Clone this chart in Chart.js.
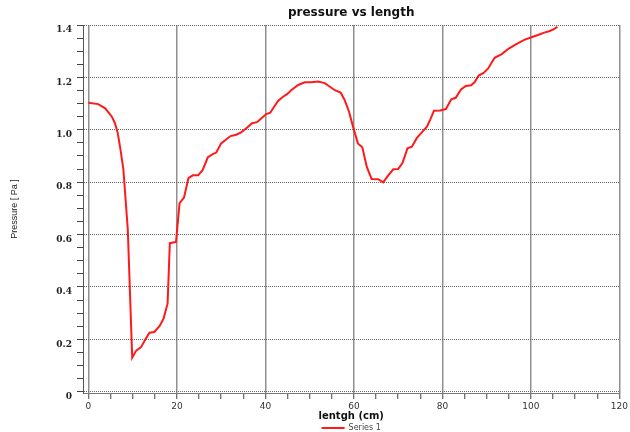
<!DOCTYPE html>
<html>
<head>
<meta charset="utf-8">
<script src="https://cdn.jsdelivr.net/npm/chart.js@4.4.0/dist/chart.umd.min.js"></script>
<style>
  body { margin: 0; background: #fff; }
  #wrap { width: 630px; height: 432px; position: relative; }
</style>
</head>
<body>
<div id="wrap"><canvas id="graph"></canvas></div>
<script>
// datos
const lengthCm = [0, 2.2, 3.8, 5.3, 6.0, 6.6, 7.2, 7.9, 8.9, 9.9, 10.8, 11.9, 12.9, 13.8, 14.9, 16.1, 17.0, 17.9, 18.4, 19.8,
  20.6, 21.6, 22.6, 23.6, 24.8, 25.8, 27.0, 28.1, 28.9, 30.0, 31.2, 32.1, 33.4, 34.5, 35.7, 37.0, 38.1, 39.1, 40.2, 41.1,
  41.9, 42.9, 44.0, 44.9, 45.9, 47.4, 48.9, 50.4, 51.9, 53.4, 54.5, 55.7, 57.0, 57.9, 58.9, 59.8, 60.9, 61.9, 62.9, 64.0,
  65.5, 66.6, 67.8, 68.9, 70.0, 71.0, 72.1, 73.1, 74.2, 75.3, 76.5, 77.2, 78.1, 79.5, 80.8, 82.0, 83.0, 84.2, 85.3, 86.5,
  87.3, 88.2, 89.3, 90.3, 91.8, 93.4, 95.0, 96.8, 98.5, 100.1, 101.6, 103.0, 104.1, 105.1, 106.0];
const pressurePa = [1.103, 1.098, 1.082, 1.05, 1.025, 0.99, 0.93, 0.85, 0.62, 0.13, 0.157, 0.17, 0.2, 0.225, 0.228, 0.251, 0.28, 0.337, 0.567, 0.572,
  0.72, 0.741, 0.815, 0.826, 0.826, 0.846, 0.895, 0.907, 0.913, 0.948, 0.964, 0.976, 0.981, 0.99, 1.006, 1.025, 1.029, 1.044, 1.06, 1.065,
  1.086, 1.111, 1.126, 1.136, 1.152, 1.171, 1.181, 1.181, 1.184, 1.178, 1.165, 1.151, 1.142, 1.114, 1.069, 1.012, 0.948, 0.933, 0.859, 0.812,
  0.811, 0.799, 0.827, 0.849, 0.85, 0.874, 0.929, 0.935, 0.968, 0.989, 1.012, 1.037, 1.073, 1.074, 1.079, 1.116, 1.122, 1.154, 1.167, 1.17,
  1.182, 1.207, 1.217, 1.233, 1.275, 1.289, 1.31, 1.328, 1.343, 1.353, 1.362, 1.371, 1.376, 1.383, 1.393];

const xTickLabels = ['0', '20', '40', '60', '80', '100', '120'];
const yTickLabels = ['0', '0.2', '0.4', '0.6', '0.8', '1.0', '1.2', '1.4'];
const xMinorStep = 5;    // marcas menores cada 5 cm
const yMinorStep = 0.05; // marcas menores cada 0.05 Pa

function loadChart() {
    const ctx = document.getElementById('graph').getContext('2d');

    const points = lengthCm.map((x, i) => ({ x: x, y: pressurePa[i] }));

    new Chart(ctx, {
        type: 'line',
        data: {
            datasets: [{
                label: 'Series 1',
                data: points,
                borderColor: '#ff1a1a',
                backgroundColor: '#ff1a1a',
                borderWidth: 2,
                pointRadius: 0,
                tension: 0,
                fill: false
            }]
        },
        options: {
            responsive: true,
            maintainAspectRatio: false,
            animation: false,
            layout: { padding: { left: 0, right: 10.5, top: 0, bottom: 0 } },
            scales: {
                x: {
                    type: 'linear',
                    min: -1.22,
                    max: 120,
                    afterBuildTicks: (scale) => {
                        const t = [];
                        for (let i = 0; i <= 24; i++) t.push({ value: i * xMinorStep });
                        scale.ticks = t;
                    },
                    afterFit: (scale) => { scale.height = 29; },
                    ticks: {
                        autoSkip: false,
                        maxRotation: 0,
                        padding: 2,
                        color: '#333',
                        font: { family: 'DejaVu Sans', size: 9 },
                        callback: (value, index) => index % 4 === 0 ? xTickLabels[index / 4] : ''
                    },
                    grid: {
                        color: (c) => c.index % 4 === 0 ? '#8f8f8f' : 'rgba(0,0,0,0)',
                        lineWidth: 1.5,
                        tickColor: '#444',
                        tickWidth: 1,
                        tickLength: 6
                    },
                    border: { display: true, color: '#777', width: 1 },
                    title: {
                        display: true,
                        text: 'lentgh (cm)',
                        color: '#111',
                        font: { family: 'DejaVu Sans', size: 10, weight: 'bold' },
                        padding: { top: 0, bottom: 0 }
                    }
                },
                y: {
                    type: 'linear',
                    min: -0.005,
                    max: 1.4,
                    afterBuildTicks: (scale) => {
                        const t = [];
                        for (let i = 0; i <= 28; i++) t.push({ value: Math.round(i * yMinorStep * 100) / 100 });
                        scale.ticks = t;
                    },
                    afterFit: (scale) => { scale.width = 83; },
                    ticks: {
                        autoSkip: false,
                        padding: 5,
                        labelOffset: 5,
                        color: '#222',
                        font: { family: 'DejaVu Serif', size: 9, weight: 'bold' },
                        callback: (value, index) => index % 4 === 0 ? yTickLabels[index / 4] : ''
                    },
                    grid: {
                        color: (c) => c.index % 4 === 0 ? '#666' : 'rgba(0,0,0,0)',
                        lineWidth: 1,
                        tickBorderDash: [],
                        tickColor: '#444',
                        tickWidth: 1,
                        tickLength: 6
                    },
                    // en v4 el punteado de la rejilla va en border.dash
                    border: { display: true, color: '#555', width: 1, dash: [1, 1] },
                    title: {
                        display: true,
                        text: 'Pressure [ Pa ]',
                        color: '#222',
                        font: { family: 'Liberation Sans', size: 9 },
                        padding: { top: 9.6, bottom: 0 }
                    }
                }
            },
            plugins: {
                title: {
                    display: true,
                    fullSize: false,
                    text: 'pressure vs length',
                    color: '#111',
                    font: { family: 'DejaVu Sans', size: 12, weight: 'bold' },
                    padding: { top: 6, bottom: 4.6 }
                },
                legend: {
                    display: true,
                    fullSize: false,
                    position: 'bottom',
                    maxHeight: 10,
                    labels: {
                        usePointStyle: true,
                        pointStyle: 'line',
                        pointStyleWidth: 23,
                        padding: 2,
                        color: '#444',
                        font: { family: 'DejaVu Sans', size: 8 }
                    }
                },
                tooltip: { enabled: false }
            }
        }
    });
}

window.onload = loadChart;
</script>
</body>
</html>
